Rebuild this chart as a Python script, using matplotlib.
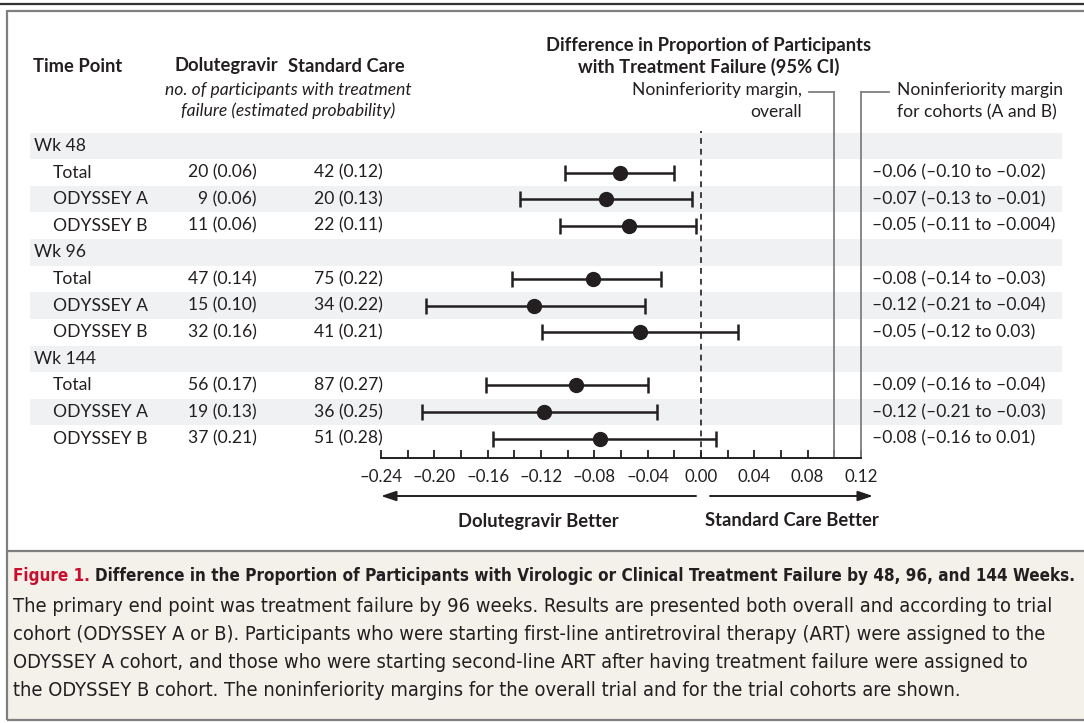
import matplotlib
matplotlib.use("Agg")
import matplotlib.pyplot as plt
from matplotlib import font_manager
from matplotlib.patches import Rectangle

W, H = 1084, 723
INK = "#231f20"
BAND = "#f0f1f3"
RULE = "#7f7f7f"
MAIN_FONT = ["Lato", "DejaVu Sans"]

# data
time_points = ["Wk 48", "Wk 96", "Wk 144"]
subgroups = ["Total", "ODYSSEY A", "ODYSSEY B"]
dtg_n = [20, 9, 11, 47, 15, 32, 56, 19, 37]
dtg_p = [0.06, 0.06, 0.06, 0.14, 0.10, 0.16, 0.17, 0.13, 0.21]
soc_n = [42, 20, 22, 75, 34, 41, 87, 36, 51]
soc_p = [0.12, 0.13, 0.11, 0.22, 0.22, 0.21, 0.27, 0.25, 0.28]
diff = [-0.061, -0.071, -0.054, -0.081, -0.125, -0.046, -0.094, -0.118, -0.076]
ci_lo = [-0.102, -0.136, -0.106, -0.142, -0.206, -0.119, -0.161, -0.209, -0.156]
ci_hi = [-0.020, -0.007, -0.004, -0.030, -0.042, 0.028, -0.040, -0.033, 0.011]
ci_text = [
    "–0.06 (–0.10 to –0.02)", "–0.07 (–0.13 to –0.01)", "–0.05 (–0.11 to –0.004)",
    "–0.08 (–0.14 to –0.03)", "–0.12 (–0.21 to –0.04)", "–0.05 (–0.12 to 0.03)",
    "–0.09 (–0.16 to –0.04)", "–0.12 (–0.21 to –0.03)", "–0.08 (–0.16 to 0.01)",
]
margin_overall = 0.10
margin_cohort = 0.12
x_ticks = [-0.24, -0.20, -0.16, -0.12, -0.08, -0.04, 0.00, 0.04, 0.08, 0.12]

caption_title = ("Difference in the Proportion of Participants with Virologic or "
                 "Clinical Treatment Failure by 48, 96, and 144 Weeks.")
caption_lines = [
    "The primary end point was treatment failure by 96 weeks. Results are presented both overall and according to trial",
    "cohort (ODYSSEY A or B). Participants who were starting first-line antiretroviral therapy (ART) were assigned to the",
    "ODYSSEY A cohort, and those who were starting second-line ART after having treatment failure were assigned to",
    "the ODYSSEY B cohort. The noninferiority margins for the overall trial and for the trial cohorts are shown.",
]

# pick a narrow face for the caption if one is installed
_fonts = font_manager.fontManager.ttflist
CAP_FONT, CAP_STRETCH = ["Roboto", "DejaVu Sans"], "normal"
if any(f.name == "Liberation Sans Narrow" for f in _fonts):
    CAP_FONT = ["Liberation Sans Narrow", "DejaVu Sans"]
elif any(f.name == "DejaVu Sans" and f.stretch == "condensed" for f in _fonts):
    CAP_FONT, CAP_STRETCH = ["DejaVu Sans"], "condensed"

# layout in pixels
ROW0, ROW_H = 146, 26.6
AX_L, AX_R, AX_TOP, AX_BOT = 381, 861, 131, 458


def row_y(i):
    return ROW0 + ROW_H * i


fig = plt.figure(figsize=(W / 100, H / 100), dpi=100)
bg = fig.add_axes([0, 0, 1, 1])
bg.set_xlim(0, W)
bg.set_ylim(H, 0)
bg.axis("off")

# frame
bg.plot([0, W], [4, 4], color="#333333", lw=1.6, solid_capstyle="butt")
bg.add_patch(Rectangle((8, 551), W, 168, facecolor="#f4f1eb", edgecolor="none"))
bg.plot([7, W], [10.5, 10.5], color=RULE, lw=1.6, solid_capstyle="butt")
bg.plot([7, W], [551, 551], color=RULE, lw=1.6, solid_capstyle="butt")
bg.plot([7, W], [719.5, 719.5], color=RULE, lw=1.6, solid_capstyle="butt")
bg.plot([7, 7], [10, 720], color=RULE, lw=1.6, solid_capstyle="butt")

# row labels and bands
rows = []
k = 0
for tp in time_points:
    rows.append((tp, None))
    for sg in subgroups:
        rows.append((sg, k))
        k += 1

kw = dict(va="center", fontsize=12.6, color=INK, family=MAIN_FONT)
for i, (label, idx) in enumerate(rows):
    y = row_y(i)
    if i % 2 == 0:
        bg.add_patch(Rectangle((30, y - ROW_H / 2), 1032, ROW_H,
                               facecolor=BAND, edgecolor="none", zorder=0))
    if idx is None:
        bg.text(34, y, label, ha="left", **kw)
        continue
    bg.text(53, y, label, ha="left", **kw)
    bg.text(257, y, f"{dtg_n[idx]} ({dtg_p[idx]:.2f})", ha="right", **kw)
    bg.text(314, y, f"{soc_n[idx]} ({soc_p[idx]:.2f})", ha="left", **kw)
    bg.text(872, y, ci_text[idx], ha="left", **kw)

# column headers
hb = dict(fontsize=13.2, fontweight="bold", color=INK, family=MAIN_FONT, va="center")
bg.text(33, 66, "Time Point", ha="left", **hb)
bg.text(226, 66, "Dolutegravir", ha="center", **hb)
bg.text(346, 66, "Standard Care", ha="center", **hb)
bg.text(709, 45, "Difference in Proportion of Participants", ha="center", **hb)
bg.text(709, 67, "with Treatment Failure (95% CI)", ha="center", **hb)
hi_kw = dict(fontsize=12.6, style="italic", color=INK, family=MAIN_FONT,
             va="center", ha="center")
bg.text(288, 90, "no. of participants with treatment", **hi_kw)
bg.text(288, 111, "failure (estimated probability)", **hi_kw)
bg.text(802, 90, "Noninferiority margin,", ha="right", **kw)
bg.text(802, 112, "overall", ha="right", **kw)
bg.text(897, 90, "Noninferiority margin", ha="left", **kw)
bg.text(897, 112, "for cohorts (A and B)", ha="left", **kw)

# forest axes
ax = fig.add_axes([AX_L / W, 1 - AX_BOT / H, (AX_R - AX_L) / W, (AX_BOT - AX_TOP) / H])
ax.patch.set_alpha(0)
ax.set_xlim(x_ticks[0], x_ticks[-1])
ax.set_ylim((AX_BOT - ROW0) / ROW_H, (AX_TOP - ROW0) / ROW_H)
for side in ["top", "left", "right"]:
    ax.spines[side].set_visible(False)
ax.spines["bottom"].set_color(INK)
ax.spines["bottom"].set_linewidth(1.4)
ax.set_yticks([])
ax.set_xticks(x_ticks)
ax.set_xticks([(a + b) / 2 for a, b in zip(x_ticks[:-1], x_ticks[1:])], minor=True)
ax.set_xticklabels([f"{v:.2f}".replace("-", "–") for v in x_ticks],
                   fontsize=12.2, color=INK, family=MAIN_FONT)
ax.tick_params(axis="x", which="both", direction="in", length=6, width=1.3,
               color=INK, pad=8)

ax.axvline(0, color=INK, lw=1.2, ls=(0, (3.5, 3)))

row_pos = [i for i, (_, idx) in enumerate(rows) if idx is not None]
ax.errorbar(diff, row_pos, xerr=[[d - l for d, l in zip(diff, ci_lo)],
                                 [h - d for d, h in zip(diff, ci_hi)]],
            fmt="o", color=INK, ms=10, elinewidth=1.8, capsize=5.5, capthick=1.8,
            zorder=3)

# noninferiority margins with leaders
lead_y = (92 - ROW0) / ROW_H
for m in (margin_overall, margin_cohort):
    ax.plot([m, m], [lead_y, ax.get_ylim()[0]], color=RULE, lw=1.3, clip_on=False)
xpx = (AX_R - AX_L) / (x_ticks[-1] - x_ticks[0])
ax.plot([margin_overall - 25 / xpx, margin_overall], [lead_y, lead_y],
        color=RULE, lw=1.3, clip_on=False)
ax.plot([margin_cohort, margin_cohort + 28 / xpx], [lead_y, lead_y],
        color=RULE, lw=1.3, clip_on=False)

# direction arrows
arr = dict(arrowstyle="-|>,head_length=0.9,head_width=0.3", color=INK, lw=1.4,
           shrinkA=0, shrinkB=0)
bg.annotate("", xy=(AX_L, 496), xytext=(696, 496), arrowprops=arr)
bg.annotate("", xy=(873, 496), xytext=(710, 496), arrowprops=arr)
bg.text(538, 521, "Dolutegravir Better", ha="center", **hb)
bg.text(792, 521, "Standard Care Better", ha="center", **hb)

# caption, sized so the lines span the panel like the original
cap = dict(ha="left", va="center", color=INK, family=CAP_FONT, stretch=CAP_STRETCH)
renderer = fig.canvas.get_renderer()
probe = bg.text(0, 0, caption_lines[0], fontsize=14, **cap)
body_fs = 14 * 1049 / probe.get_window_extent(renderer).width
probe.remove()

t1 = bg.text(13, 576, "Figure 1.", fontsize=body_fs, fontweight="bold",
             **{**cap, "color": "#c8102e"})
x1 = t1.get_window_extent(renderer).x1 + 5
t2 = bg.text(x1, 576, caption_title, fontsize=body_fs, fontweight="bold", **cap)
w2 = t2.get_window_extent(renderer).width
if x1 + w2 > 1068:
    title_fs = body_fs * (1068 - 13) / (x1 - 13 + w2)
    t1.set_fontsize(title_fs)
    t2.set_fontsize(title_fs)
    t2.set_x(t1.get_window_extent(renderer).x1 + 5)
for j, line in enumerate(caption_lines):
    bg.text(13, 606 + 28.3 * j, line, fontsize=body_fs, **cap)

fig.savefig("out.png", dpi=100)
